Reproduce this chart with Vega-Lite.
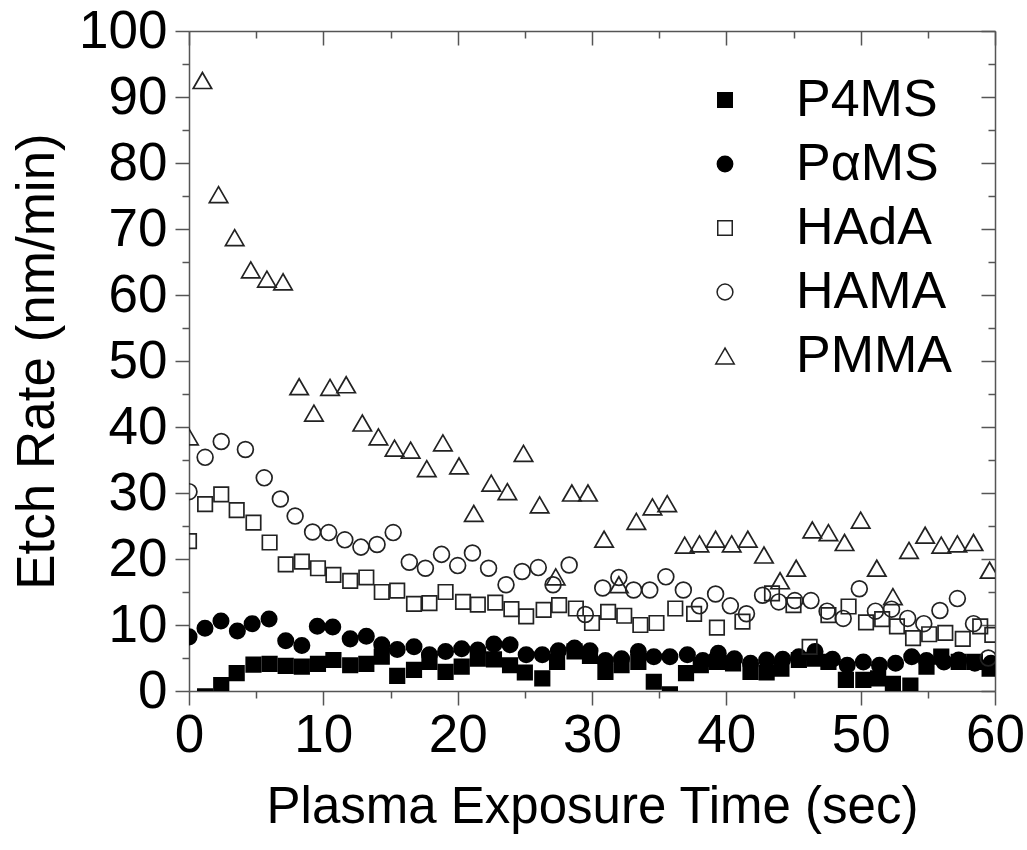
{
  "$schema": "https://vega.github.io/schema/vega-lite/v6.json",
  "width": 806,
  "height": 660,
  "autosize": "none",
  "padding": {"left": 189, "top": 31, "right": 32, "bottom": 159},
  "background": "white",
  "config": {
    "view": {"stroke": null},
    "font": "Liberation Sans",
    "axis": {"labelFont": "Liberation Sans", "titleFont": "Liberation Sans", "grid": false, "domainColor": "#555", "tickColor": "#555", "domainWidth": 1.5, "tickWidth": 1.5, "labelColor": "#000", "titleColor": "#000", "labelFlush": false, "labelOverlap": false, "titleFontWeight": "normal"},
    "legend": {"labelFont": "Liberation Sans", "labelFontSize": 52, "labelColor": "#000", "symbolStrokeWidth": 1.5, "rowPadding": 12, "labelOffset": 45, "padding": 0}
  },
  "data": {"values": [
    {"s":"P4MS","t":1.2,"v":-0.8},{"s":"P4MS","t":2.4,"v":0.9},{"s":"P4MS","t":3.55,"v":2.7},{"s":"P4MS","t":4.8,"v":4.0},{"s":"P4MS","t":6.0,"v":4.1},{"s":"P4MS","t":7.2,"v":3.8},{"s":"P4MS","t":8.4,"v":3.7},{"s":"P4MS","t":9.6,"v":4.1},{"s":"P4MS","t":10.75,"v":4.7},{"s":"P4MS","t":12.0,"v":3.9},{"s":"P4MS","t":13.2,"v":4.1},{"s":"P4MS","t":14.35,"v":5.2},{"s":"P4MS","t":15.5,"v":2.3},{"s":"P4MS","t":16.75,"v":3.2},{"s":"P4MS","t":17.9,"v":4.4},{"s":"P4MS","t":19.1,"v":2.9},{"s":"P4MS","t":20.3,"v":3.7},{"s":"P4MS","t":21.5,"v":4.9},{"s":"P4MS","t":22.7,"v":4.8},{"s":"P4MS","t":23.9,"v":3.9},{"s":"P4MS","t":25.0,"v":2.8},{"s":"P4MS","t":26.3,"v":1.9},{"s":"P4MS","t":27.4,"v":4.4},{"s":"P4MS","t":28.7,"v":6.0},{"s":"P4MS","t":29.85,"v":5.3},{"s":"P4MS","t":31.0,"v":2.9},{"s":"P4MS","t":32.2,"v":3.9},{"s":"P4MS","t":33.45,"v":4.4},{"s":"P4MS","t":34.6,"v":1.4},{"s":"P4MS","t":35.8,"v":-0.5},{"s":"P4MS","t":37.0,"v":2.7},{"s":"P4MS","t":38.1,"v":3.9},{"s":"P4MS","t":39.3,"v":4.4},{"s":"P4MS","t":40.5,"v":4.2},{"s":"P4MS","t":41.8,"v":2.9},{"s":"P4MS","t":43.0,"v":2.8},{"s":"P4MS","t":44.1,"v":3.4},{"s":"P4MS","t":45.4,"v":4.7},{"s":"P4MS","t":46.6,"v":4.9},{"s":"P4MS","t":47.6,"v":4.4},{"s":"P4MS","t":48.9,"v":1.7},{"s":"P4MS","t":50.2,"v":1.7},{"s":"P4MS","t":51.3,"v":1.9},{"s":"P4MS","t":52.4,"v":1.1},{"s":"P4MS","t":53.7,"v":0.8},{"s":"P4MS","t":54.9,"v":3.7},{"s":"P4MS","t":56.0,"v":5.2},{"s":"P4MS","t":57.3,"v":4.4},{"s":"P4MS","t":58.5,"v":4.4},{"s":"P4MS","t":59.6,"v":3.4},
    {"s":"PαMS","t":0,"v":8.2},{"s":"PαMS","t":1.19,"v":9.5},{"s":"PαMS","t":2.38,"v":10.6},{"s":"PαMS","t":3.6,"v":9.1},{"s":"PαMS","t":4.7,"v":10.2},{"s":"PαMS","t":5.96,"v":10.9},{"s":"PαMS","t":7.2,"v":7.6},{"s":"PαMS","t":8.4,"v":6.9},{"s":"PαMS","t":9.55,"v":9.8},{"s":"PαMS","t":10.7,"v":9.7},{"s":"PαMS","t":12.0,"v":7.9},{"s":"PαMS","t":13.2,"v":8.3},{"s":"PαMS","t":14.35,"v":7.0},{"s":"PαMS","t":15.5,"v":6.3},{"s":"PαMS","t":16.75,"v":6.7},{"s":"PαMS","t":17.9,"v":5.5},{"s":"PαMS","t":19.1,"v":6.0},{"s":"PαMS","t":20.3,"v":6.4},{"s":"PαMS","t":21.5,"v":6.2},{"s":"PαMS","t":22.7,"v":7.1},{"s":"PαMS","t":23.9,"v":7.0},{"s":"PαMS","t":25.1,"v":5.5},{"s":"PαMS","t":26.3,"v":5.5},{"s":"PαMS","t":27.5,"v":6.1},{"s":"PαMS","t":28.7,"v":6.5},{"s":"PαMS","t":29.85,"v":6.1},{"s":"PαMS","t":31.0,"v":4.6},{"s":"PαMS","t":32.2,"v":4.9},{"s":"PαMS","t":33.45,"v":6.0},{"s":"PαMS","t":34.6,"v":5.2},{"s":"PαMS","t":35.8,"v":5.2},{"s":"PαMS","t":37.1,"v":5.5},{"s":"PαMS","t":38.25,"v":4.6},{"s":"PαMS","t":39.4,"v":5.7},{"s":"PαMS","t":40.6,"v":4.9},{"s":"PαMS","t":41.8,"v":4.2},{"s":"PαMS","t":43.0,"v":4.7},{"s":"PαMS","t":44.2,"v":4.8},{"s":"PαMS","t":45.4,"v":5.2},{"s":"PαMS","t":46.6,"v":6.0},{"s":"PαMS","t":47.9,"v":4.8},{"s":"PαMS","t":49.0,"v":3.9},{"s":"PαMS","t":50.2,"v":4.4},{"s":"PαMS","t":51.4,"v":3.9},{"s":"PαMS","t":52.6,"v":4.2},{"s":"PαMS","t":53.8,"v":5.2},{"s":"PαMS","t":54.9,"v":4.6},{"s":"PαMS","t":56.2,"v":4.4},{"s":"PαMS","t":57.3,"v":4.7},{"s":"PαMS","t":58.5,"v":4.2},{"s":"PαMS","t":59.7,"v":4.2},
    {"s":"HAdA","t":0,"v":22.7},{"s":"HAdA","t":1.2,"v":28.3},{"s":"HAdA","t":2.4,"v":29.8},{"s":"HAdA","t":3.55,"v":27.4},{"s":"HAdA","t":4.8,"v":25.5},{"s":"HAdA","t":6.0,"v":22.5},{"s":"HAdA","t":7.2,"v":19.2},{"s":"HAdA","t":8.4,"v":19.6},{"s":"HAdA","t":9.6,"v":18.6},{"s":"HAdA","t":10.75,"v":17.6},{"s":"HAdA","t":12.0,"v":16.7},{"s":"HAdA","t":13.2,"v":17.2},{"s":"HAdA","t":14.35,"v":15.0},{"s":"HAdA","t":15.5,"v":15.2},{"s":"HAdA","t":16.75,"v":13.2},{"s":"HAdA","t":17.9,"v":13.3},{"s":"HAdA","t":19.1,"v":15.0},{"s":"HAdA","t":20.4,"v":13.5},{"s":"HAdA","t":21.5,"v":13.1},{"s":"HAdA","t":22.8,"v":13.4},{"s":"HAdA","t":24.0,"v":12.4},{"s":"HAdA","t":25.1,"v":11.3},{"s":"HAdA","t":26.4,"v":12.3},{"s":"HAdA","t":27.55,"v":13.0},{"s":"HAdA","t":28.8,"v":12.5},{"s":"HAdA","t":30.0,"v":10.3},{"s":"HAdA","t":31.2,"v":12.0},{"s":"HAdA","t":32.4,"v":11.4},{"s":"HAdA","t":33.6,"v":10.0},{"s":"HAdA","t":34.8,"v":10.3},{"s":"HAdA","t":36.2,"v":12.5},{"s":"HAdA","t":37.6,"v":11.7},{"s":"HAdA","t":39.3,"v":9.6},{"s":"HAdA","t":41.2,"v":10.5},{"s":"HAdA","t":43.4,"v":14.8},{"s":"HAdA","t":45.0,"v":13.0},{"s":"HAdA","t":46.2,"v":6.7},{"s":"HAdA","t":47.6,"v":11.5},{"s":"HAdA","t":49.1,"v":12.8},{"s":"HAdA","t":50.4,"v":10.4},{"s":"HAdA","t":51.6,"v":10.9},{"s":"HAdA","t":52.7,"v":9.8},{"s":"HAdA","t":53.9,"v":8.0},{"s":"HAdA","t":55.1,"v":8.6},{"s":"HAdA","t":56.3,"v":8.8},{"s":"HAdA","t":57.6,"v":7.9},{"s":"HAdA","t":58.9,"v":9.8},{"s":"HAdA","t":59.8,"v":8.5},
    {"s":"HAMA","t":0,"v":30.2},{"s":"HAMA","t":1.2,"v":35.4},{"s":"HAMA","t":2.4,"v":37.8},{"s":"HAMA","t":4.2,"v":36.6},{"s":"HAMA","t":5.6,"v":32.3},{"s":"HAMA","t":6.8,"v":29.1},{"s":"HAMA","t":7.9,"v":26.5},{"s":"HAMA","t":9.2,"v":24.1},{"s":"HAMA","t":10.4,"v":24.0},{"s":"HAMA","t":11.6,"v":22.9},{"s":"HAMA","t":12.8,"v":21.8},{"s":"HAMA","t":14.0,"v":22.2},{"s":"HAMA","t":15.2,"v":24.0},{"s":"HAMA","t":16.4,"v":19.5},{"s":"HAMA","t":17.6,"v":18.6},{"s":"HAMA","t":18.8,"v":20.7},{"s":"HAMA","t":20.0,"v":19.0},{"s":"HAMA","t":21.1,"v":20.9},{"s":"HAMA","t":22.3,"v":18.6},{"s":"HAMA","t":23.6,"v":16.1},{"s":"HAMA","t":24.8,"v":18.1},{"s":"HAMA","t":26.0,"v":18.7},{"s":"HAMA","t":27.1,"v":16.1},{"s":"HAMA","t":28.3,"v":19.1},{"s":"HAMA","t":29.5,"v":11.6},{"s":"HAMA","t":30.8,"v":15.6},{"s":"HAMA","t":32.0,"v":17.2},{"s":"HAMA","t":33.1,"v":15.3},{"s":"HAMA","t":34.3,"v":15.3},{"s":"HAMA","t":35.5,"v":17.3},{"s":"HAMA","t":36.8,"v":15.3},{"s":"HAMA","t":38.0,"v":12.9},{"s":"HAMA","t":39.2,"v":14.7},{"s":"HAMA","t":40.3,"v":12.9},{"s":"HAMA","t":41.5,"v":11.7},{"s":"HAMA","t":42.7,"v":14.5},{"s":"HAMA","t":43.9,"v":13.5},{"s":"HAMA","t":45.1,"v":13.7},{"s":"HAMA","t":46.3,"v":13.7},{"s":"HAMA","t":47.5,"v":12.1},{"s":"HAMA","t":48.7,"v":11.0},{"s":"HAMA","t":49.9,"v":15.5},{"s":"HAMA","t":51.1,"v":12.1},{"s":"HAMA","t":52.3,"v":12.4},{"s":"HAMA","t":53.5,"v":11.0},{"s":"HAMA","t":54.7,"v":10.2},{"s":"HAMA","t":55.9,"v":12.2},{"s":"HAMA","t":57.2,"v":14.0},{"s":"HAMA","t":58.4,"v":10.2},{"s":"HAMA","t":59.5,"v":5.0},
    {"s":"PMMA","t":0,"v":38.5},{"s":"PMMA","t":1.0,"v":92.5},{"s":"PMMA","t":2.2,"v":75.2},{"s":"PMMA","t":3.4,"v":68.7},{"s":"PMMA","t":4.6,"v":63.8},{"s":"PMMA","t":5.8,"v":62.4},{"s":"PMMA","t":7.0,"v":62.0},{"s":"PMMA","t":8.2,"v":46.1},{"s":"PMMA","t":9.3,"v":42.1},{"s":"PMMA","t":10.5,"v":46.0},{"s":"PMMA","t":11.7,"v":46.4},{"s":"PMMA","t":12.9,"v":40.6},{"s":"PMMA","t":14.1,"v":38.5},{"s":"PMMA","t":15.3,"v":36.8},{"s":"PMMA","t":16.5,"v":36.5},{"s":"PMMA","t":17.7,"v":33.7},{"s":"PMMA","t":18.9,"v":37.6},{"s":"PMMA","t":20.1,"v":34.1},{"s":"PMMA","t":21.2,"v":26.9},{"s":"PMMA","t":22.5,"v":31.5},{"s":"PMMA","t":23.7,"v":30.2},{"s":"PMMA","t":24.9,"v":36.0},{"s":"PMMA","t":26.1,"v":28.2},{"s":"PMMA","t":27.3,"v":17.3},{"s":"PMMA","t":28.5,"v":30.0},{"s":"PMMA","t":29.7,"v":30.0},{"s":"PMMA","t":30.9,"v":23.0},{"s":"PMMA","t":32.0,"v":16.1},{"s":"PMMA","t":33.3,"v":25.7},{"s":"PMMA","t":34.5,"v":27.9},{"s":"PMMA","t":35.6,"v":28.4},{"s":"PMMA","t":36.9,"v":22.1},{"s":"PMMA","t":38.0,"v":22.3},{"s":"PMMA","t":39.2,"v":23.0},{"s":"PMMA","t":40.4,"v":22.3},{"s":"PMMA","t":41.6,"v":23.0},{"s":"PMMA","t":42.8,"v":20.6},{"s":"PMMA","t":44.0,"v":16.7},{"s":"PMMA","t":45.2,"v":18.6},{"s":"PMMA","t":46.4,"v":24.4},{"s":"PMMA","t":47.6,"v":24.0},{"s":"PMMA","t":48.8,"v":22.5},{"s":"PMMA","t":50.0,"v":25.9},{"s":"PMMA","t":51.2,"v":18.6},{"s":"PMMA","t":52.4,"v":14.3},{"s":"PMMA","t":53.6,"v":21.3},{"s":"PMMA","t":54.8,"v":23.6},{"s":"PMMA","t":56.0,"v":22.1},{"s":"PMMA","t":57.2,"v":22.3},{"s":"PMMA","t":58.4,"v":22.5},{"s":"PMMA","t":59.6,"v":18.3}
  ]},
  "resolve": {"axis": {"x": "independent", "y": "independent"}},
  "layer": [
    {
      "mark": {"type": "point", "opacity": 0},
      "encoding": {
        "x": {"field": "t", "type": "quantitative", "scale": {"domain": [0, 60], "nice": false, "zero": false}, "axis": {"orient": "bottom", "values": [5,15,25,35,45,55], "tickSize": 7, "labels": false, "domain": false, "title": null}},
        "y": {"field": "v", "type": "quantitative", "scale": {"domain": [0, 100], "nice": false, "zero": false}, "axis": {"orient": "left", "values": [5,15,25,35,45,55,65,75,85,95], "tickSize": 7, "labels": false, "domain": false, "title": null}}
      }
    },
    {
      "mark": {"type": "point", "opacity": 0},
      "encoding": {
        "x": {"field": "t", "type": "quantitative", "axis": {"orient": "top", "values": [0,10,20,30,40,50,60], "tickSize": -14, "labels": false, "domain": true, "title": null}},
        "y": {"field": "v", "type": "quantitative", "axis": {"orient": "right", "values": [0,10,20,30,40,50,60,70,80,90,100], "tickSize": -14, "labels": false, "domain": true, "title": null}}
      }
    },
    {
      "mark": {"type": "point", "opacity": 0},
      "encoding": {
        "x": {"field": "t", "type": "quantitative", "axis": {"orient": "top", "values": [5,15,25,35,45,55], "tickSize": -7, "labels": false, "domain": false, "title": null}},
        "y": {"field": "v", "type": "quantitative", "axis": {"orient": "right", "values": [5,15,25,35,45,55,65,75,85,95], "tickSize": -7, "labels": false, "domain": false, "title": null}}
      }
    },
    {
      "mark": {"type": "point", "clip": true, "strokeWidth": 1.7, "opacity": 1},
      "encoding": {
        "x": {"field": "t", "type": "quantitative", "axis": {"orient": "bottom", "values": [0,10,20,30,40,50,60], "tickSize": 14, "labelFontSize": 53, "labelPadding": 4, "title": "Plasma Exposure Time (sec)", "titleFontSize": 51, "titlePadding": 20}},
        "y": {"field": "v", "type": "quantitative", "axis": {"orient": "left", "values": [0,10,20,30,40,50,60,70,80,90,100], "tickSize": 14, "labelFontSize": 53, "labelPadding": 8, "title": "Etch Rate (nm/min)", "titleFontSize": 53, "titlePadding": 14}},
        "shape": {"field": "s", "type": "nominal", "scale": {"domain": ["P4MS","PαMS","HAdA","HAMA","PMMA"], "range": ["square","circle","square","circle","triangle-up"]}, "legend": {"title": null, "orient": "none", "legendX": 510, "legendY": 43}},
        "fill": {"field": "s", "type": "nominal", "scale": {"domain": ["P4MS","PαMS","HAdA","HAMA","PMMA"], "range": ["#000000","#000000","transparent","transparent","transparent"]}, "legend": {"title": null, "orient": "none", "legendX": 510, "legendY": 43}},
        "stroke": {"field": "s", "type": "nominal", "scale": {"domain": ["P4MS","PαMS","HAdA","HAMA","PMMA"], "range": ["#000000","#000000","#222222","#222222","#222222"]}, "legend": {"title": null, "orient": "none", "legendX": 510, "legendY": 43}},
        "size": {"field": "s", "type": "nominal", "scale": {"type": "ordinal", "domain": ["P4MS","PαMS","HAdA","HAMA","PMMA"], "range": [210,235,210,250,340]}, "legend": {"title": null, "orient": "none", "legendX": 510, "legendY": 43}}
      }
    }
  ]
}
